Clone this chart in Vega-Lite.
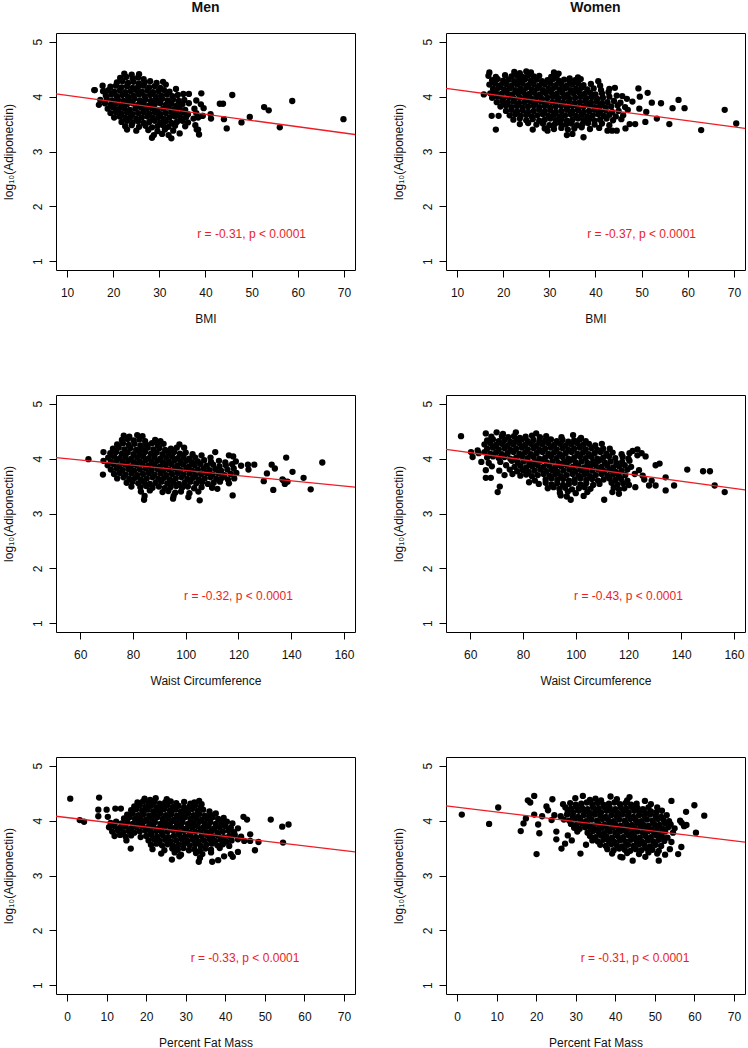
{
"$schema":"https://vega.github.io/schema/vega-lite/v6.json",
"padding":{"left":1,"top":0,"right":0,"bottom":0},
"background":"white",
"bounds":"flush",
"columns":2,
"spacing":{"row":125,"column":91},
"resolve":{"scale":{"x":"independent","y":"independent"}},
"datasets":{
"p1":[{"x":22.4,"y":4.42},{"x":24.0,"y":4.40},{"x":25.6,"y":4.41},
{"x":21.5,"y":4.34},{"x":22.8,"y":4.36},{"x":24.2,"y":4.33},{"x":25.4,"y":4.35},{"x":26.6,"y":4.32},
{"x":20.8,"y":4.26},{"x":22.0,"y":4.28},{"x":23.2,"y":4.25},{"x":24.4,"y":4.27},{"x":25.6,"y":4.24},{"x":26.8,"y":4.26},{"x":28.0,"y":4.28},{"x":29.4,"y":4.25},{"x":30.8,"y":4.27},
{"x":19.4,"y":4.18},{"x":20.6,"y":4.20},{"x":21.8,"y":4.17},{"x":23.0,"y":4.19},{"x":24.2,"y":4.16},{"x":25.4,"y":4.18},{"x":26.6,"y":4.20},{"x":27.8,"y":4.17},{"x":29.0,"y":4.19},{"x":30.2,"y":4.16},{"x":31.4,"y":4.22},
{"x":16.0,"y":4.12},{"x":17.8,"y":4.10},{"x":19.0,"y":4.12},{"x":20.2,"y":4.09},{"x":21.4,"y":4.11},{"x":22.6,"y":4.08},{"x":23.8,"y":4.10},{"x":25.0,"y":4.12},{"x":26.2,"y":4.09},{"x":27.4,"y":4.11},{"x":28.6,"y":4.08},{"x":29.8,"y":4.10},{"x":31.0,"y":4.12},{"x":32.2,"y":4.09},{"x":33.6,"y":4.14},
{"x":18.4,"y":4.02},{"x":19.6,"y":4.04},{"x":20.8,"y":4.01},{"x":22.0,"y":4.03},{"x":23.2,"y":4.00},{"x":24.4,"y":4.02},{"x":25.6,"y":4.04},{"x":26.8,"y":4.01},{"x":28.0,"y":4.03},{"x":29.2,"y":4.00},{"x":30.4,"y":4.02},{"x":31.6,"y":4.04},{"x":32.8,"y":4.01},{"x":34.0,"y":4.03},{"x":35.2,"y":4.05},{"x":36.4,"y":4.05},
{"x":17.2,"y":3.94},{"x":18.6,"y":3.96},{"x":19.8,"y":3.93},{"x":21.0,"y":3.95},{"x":22.2,"y":3.92},{"x":23.4,"y":3.94},{"x":24.6,"y":3.96},{"x":25.8,"y":3.93},{"x":27.0,"y":3.95},{"x":28.2,"y":3.92},{"x":29.4,"y":3.94},{"x":30.6,"y":3.96},{"x":31.8,"y":3.93},{"x":33.0,"y":3.95},{"x":34.2,"y":3.92},{"x":35.4,"y":3.94},{"x":38.0,"y":3.93},
{"x":16.9,"y":3.85},{"x":18.2,"y":3.88},{"x":19.4,"y":3.85},{"x":20.6,"y":3.87},{"x":21.8,"y":3.84},{"x":23.0,"y":3.86},{"x":24.2,"y":3.88},{"x":25.4,"y":3.85},{"x":26.6,"y":3.87},{"x":27.8,"y":3.84},{"x":29.0,"y":3.86},{"x":30.2,"y":3.88},{"x":31.4,"y":3.85},{"x":32.6,"y":3.87},{"x":33.8,"y":3.84},{"x":35.0,"y":3.86},{"x":36.4,"y":3.88},{"x":39.0,"y":3.86},
{"x":18.8,"y":3.78},{"x":20.0,"y":3.80},{"x":21.2,"y":3.77},{"x":22.4,"y":3.79},{"x":23.6,"y":3.76},{"x":24.8,"y":3.78},{"x":26.0,"y":3.80},{"x":27.2,"y":3.77},{"x":28.4,"y":3.79},{"x":29.6,"y":3.76},{"x":30.8,"y":3.78},{"x":32.0,"y":3.80},{"x":33.2,"y":3.77},{"x":34.4,"y":3.79},{"x":35.6,"y":3.76},{"x":37.6,"y":3.78},{"x":39.6,"y":3.79},
{"x":19.4,"y":3.70},{"x":20.6,"y":3.72},{"x":21.8,"y":3.69},{"x":23.0,"y":3.71},{"x":24.2,"y":3.68},{"x":25.4,"y":3.70},{"x":26.6,"y":3.72},{"x":27.8,"y":3.69},{"x":29.0,"y":3.71},{"x":30.2,"y":3.68},{"x":31.4,"y":3.70},{"x":32.6,"y":3.72},{"x":33.8,"y":3.69},{"x":35.0,"y":3.71},{"x":36.2,"y":3.68},{"x":38.0,"y":3.70},{"x":39.4,"y":3.65},
{"x":20.2,"y":3.62},{"x":21.4,"y":3.64},{"x":22.6,"y":3.61},{"x":23.8,"y":3.63},{"x":25.0,"y":3.60},{"x":26.2,"y":3.62},{"x":27.4,"y":3.64},{"x":28.6,"y":3.61},{"x":29.8,"y":3.63},{"x":31.0,"y":3.60},{"x":32.2,"y":3.62},{"x":33.4,"y":3.64},{"x":34.6,"y":3.61},{"x":35.8,"y":3.63},{"x":37.4,"y":3.60},{"x":38.4,"y":3.62},{"x":41.2,"y":3.60},
{"x":21.8,"y":3.54},{"x":23.0,"y":3.56},{"x":24.2,"y":3.53},{"x":25.4,"y":3.55},{"x":26.6,"y":3.52},{"x":27.8,"y":3.54},{"x":29.0,"y":3.56},{"x":30.2,"y":3.53},{"x":31.4,"y":3.55},{"x":32.6,"y":3.52},{"x":33.8,"y":3.54},{"x":35.0,"y":3.56},{"x":36.2,"y":3.53},
{"x":22.6,"y":3.46},{"x":24.0,"y":3.48},{"x":25.6,"y":3.45},{"x":27.0,"y":3.47},{"x":28.4,"y":3.44},{"x":29.6,"y":3.46},{"x":30.8,"y":3.48},{"x":32.0,"y":3.45},{"x":33.4,"y":3.47},{"x":35.6,"y":3.46},{"x":37.8,"y":3.48},
{"x":23.0,"y":3.40},{"x":25.0,"y":3.38},{"x":27.6,"y":3.39},{"x":29.6,"y":3.37},{"x":31.2,"y":3.40},{"x":33.0,"y":3.38},{"x":38.4,"y":3.40},
{"x":28.8,"y":3.30},{"x":30.6,"y":3.32},{"x":32.0,"y":3.30},{"x":34.4,"y":3.33},{"x":38.6,"y":3.31},
{"x":28.4,"y":3.25},{"x":32.6,"y":3.24},
{"x":43.1,"y":3.87},{"x":43.8,"y":3.87},{"x":45.8,"y":4.03},{"x":44.0,"y":3.59},{"x":44.6,"y":3.42},{"x":47.8,"y":3.53},{"x":49.6,"y":3.63},{"x":52.7,"y":3.81},{"x":53.7,"y":3.75},{"x":56.1,"y":3.44},{"x":58.8,"y":3.92},{"x":69.9,"y":3.59},{"x":39.1,"y":4.06},{"x":39.3,"y":3.65},{"x":41.1,"y":3.68},{"x":38.1,"y":3.40},{"x":15.9,"y":4.12},{"x":17.7,"y":4.20},{"x":18.0,"y":4.10}],
"p2":[{"x":17.0,"y":4.44},{"x":22.4,"y":4.45},{"x":23.6,"y":4.43},{"x":25.0,"y":4.46},{"x":26.0,"y":4.44},{"x":31.0,"y":4.44},{"x":32.0,"y":4.42},
{"x":16.8,"y":4.38},{"x":18.4,"y":4.36},{"x":20.4,"y":4.39},{"x":21.8,"y":4.37},{"x":23.0,"y":4.38},{"x":24.2,"y":4.36},{"x":25.4,"y":4.39},{"x":26.6,"y":4.37},{"x":27.8,"y":4.38},{"x":30.4,"y":4.36},{"x":31.6,"y":4.38},{"x":34.4,"y":4.33},{"x":36.2,"y":4.35},
{"x":17.6,"y":4.30},{"x":18.8,"y":4.32},{"x":20.0,"y":4.29},{"x":21.2,"y":4.31},{"x":22.4,"y":4.28},{"x":23.6,"y":4.30},{"x":24.8,"y":4.32},{"x":26.0,"y":4.29},{"x":27.2,"y":4.31},{"x":28.4,"y":4.28},{"x":29.6,"y":4.30},{"x":30.8,"y":4.32},{"x":32.0,"y":4.29},{"x":33.2,"y":4.31},{"x":34.4,"y":4.28},{"x":35.6,"y":4.30},{"x":36.8,"y":4.32},{"x":40.6,"y":4.28},
{"x":17.0,"y":4.22},{"x":18.2,"y":4.24},{"x":19.4,"y":4.21},{"x":20.6,"y":4.23},{"x":21.8,"y":4.20},{"x":23.0,"y":4.22},{"x":24.2,"y":4.24},{"x":25.4,"y":4.21},{"x":26.6,"y":4.23},{"x":27.8,"y":4.20},{"x":29.0,"y":4.22},{"x":30.2,"y":4.24},{"x":31.4,"y":4.21},{"x":32.6,"y":4.23},{"x":33.8,"y":4.20},{"x":35.0,"y":4.22},{"x":36.2,"y":4.24},{"x":37.4,"y":4.21},{"x":39.0,"y":4.23},{"x":41.0,"y":4.20},{"x":44.2,"y":4.16},
{"x":17.8,"y":4.14},{"x":19.0,"y":4.16},{"x":20.2,"y":4.13},{"x":21.4,"y":4.15},{"x":22.6,"y":4.12},{"x":23.8,"y":4.14},{"x":25.0,"y":4.16},{"x":26.2,"y":4.13},{"x":27.4,"y":4.15},{"x":28.6,"y":4.12},{"x":29.8,"y":4.14},{"x":31.0,"y":4.16},{"x":32.2,"y":4.13},{"x":33.4,"y":4.15},{"x":34.6,"y":4.12},{"x":35.8,"y":4.14},{"x":37.0,"y":4.16},{"x":38.2,"y":4.13},{"x":39.6,"y":4.15},{"x":41.2,"y":4.12},{"x":43.0,"y":4.14},{"x":49.3,"y":4.15},
{"x":15.8,"y":4.04},{"x":17.2,"y":4.06},{"x":18.4,"y":4.08},{"x":19.6,"y":4.05},{"x":20.8,"y":4.07},{"x":22.0,"y":4.04},{"x":23.2,"y":4.06},{"x":24.4,"y":4.08},{"x":25.6,"y":4.05},{"x":26.8,"y":4.07},{"x":28.0,"y":4.04},{"x":29.2,"y":4.06},{"x":30.4,"y":4.08},{"x":31.6,"y":4.05},{"x":32.8,"y":4.07},{"x":34.0,"y":4.04},{"x":35.2,"y":4.06},{"x":36.4,"y":4.08},{"x":37.6,"y":4.05},{"x":38.8,"y":4.07},{"x":40.0,"y":4.04},{"x":41.4,"y":4.06},{"x":42.8,"y":4.08},{"x":44.6,"y":4.02},{"x":45.8,"y":4.01},{"x":51.3,"y":4.07},
{"x":17.6,"y":3.98},{"x":18.8,"y":4.00},{"x":20.0,"y":3.97},{"x":21.2,"y":3.99},{"x":22.4,"y":3.96},{"x":23.6,"y":3.98},{"x":24.8,"y":4.00},{"x":26.0,"y":3.97},{"x":27.2,"y":3.99},{"x":28.4,"y":3.96},{"x":29.6,"y":3.98},{"x":30.8,"y":4.00},{"x":32.0,"y":3.97},{"x":33.2,"y":3.99},{"x":34.4,"y":3.96},{"x":35.6,"y":3.98},{"x":36.8,"y":4.00},{"x":38.0,"y":3.97},{"x":39.2,"y":3.99},{"x":40.4,"y":3.96},{"x":41.6,"y":3.98},{"x":43.0,"y":4.00},{"x":46.8,"y":3.96},{"x":49.6,"y":4.00},
{"x":18.6,"y":3.90},{"x":19.8,"y":3.92},{"x":21.0,"y":3.89},{"x":22.2,"y":3.91},{"x":23.4,"y":3.88},{"x":24.6,"y":3.90},{"x":25.8,"y":3.92},{"x":27.0,"y":3.89},{"x":28.2,"y":3.91},{"x":29.4,"y":3.88},{"x":30.6,"y":3.90},{"x":31.8,"y":3.92},{"x":33.0,"y":3.89},{"x":34.2,"y":3.91},{"x":35.4,"y":3.88},{"x":36.6,"y":3.90},{"x":37.8,"y":3.92},{"x":39.0,"y":3.89},{"x":40.2,"y":3.91},{"x":41.4,"y":3.88},{"x":42.6,"y":3.90},{"x":44.0,"y":3.92},{"x":45.4,"y":3.89},{"x":48.0,"y":3.91},{"x":52.2,"y":3.89},{"x":54.2,"y":3.88},
{"x":19.4,"y":3.82},{"x":20.6,"y":3.84},{"x":21.8,"y":3.81},{"x":23.0,"y":3.83},{"x":24.2,"y":3.80},{"x":25.4,"y":3.82},{"x":26.6,"y":3.84},{"x":27.8,"y":3.81},{"x":29.0,"y":3.83},{"x":30.2,"y":3.80},{"x":31.4,"y":3.82},{"x":32.6,"y":3.84},{"x":33.8,"y":3.81},{"x":35.0,"y":3.83},{"x":36.2,"y":3.80},{"x":37.4,"y":3.82},{"x":38.6,"y":3.84},{"x":39.8,"y":3.81},{"x":41.0,"y":3.83},{"x":42.2,"y":3.80},{"x":43.4,"y":3.82},{"x":44.8,"y":3.84},{"x":46.4,"y":3.81},{"x":49.5,"y":3.78},{"x":56.7,"y":3.79},{"x":59.3,"y":3.79},{"x":58.0,"y":3.94},
{"x":20.6,"y":3.74},{"x":21.8,"y":3.76},{"x":23.0,"y":3.73},{"x":24.2,"y":3.75},{"x":25.4,"y":3.72},{"x":26.6,"y":3.74},{"x":27.8,"y":3.76},{"x":29.0,"y":3.73},{"x":30.2,"y":3.75},{"x":31.4,"y":3.72},{"x":32.6,"y":3.74},{"x":33.8,"y":3.76},{"x":35.0,"y":3.73},{"x":36.2,"y":3.75},{"x":37.4,"y":3.72},{"x":38.6,"y":3.74},{"x":39.8,"y":3.76},{"x":41.0,"y":3.73},{"x":42.2,"y":3.75},{"x":43.6,"y":3.72},{"x":45.0,"y":3.74},{"x":47.0,"y":3.76},{"x":51.0,"y":3.72},{"x":68.0,"y":3.76},
{"x":17.5,"y":3.65},{"x":19.0,"y":3.65},{"x":21.4,"y":3.66},{"x":22.6,"y":3.68},{"x":23.8,"y":3.65},{"x":25.0,"y":3.67},{"x":26.2,"y":3.64},{"x":27.4,"y":3.66},{"x":28.6,"y":3.68},{"x":29.8,"y":3.65},{"x":31.0,"y":3.67},{"x":32.2,"y":3.64},{"x":33.4,"y":3.66},{"x":34.6,"y":3.68},{"x":35.8,"y":3.65},{"x":37.0,"y":3.67},{"x":38.2,"y":3.64},{"x":39.4,"y":3.66},{"x":40.6,"y":3.68},{"x":41.8,"y":3.65},{"x":43.0,"y":3.67},{"x":44.4,"y":3.64},{"x":46.0,"y":3.66},
{"x":22.2,"y":3.58},{"x":23.6,"y":3.60},{"x":25.0,"y":3.57},{"x":26.4,"y":3.59},{"x":27.8,"y":3.56},{"x":29.0,"y":3.58},{"x":30.2,"y":3.60},{"x":31.4,"y":3.57},{"x":32.6,"y":3.59},{"x":33.8,"y":3.56},{"x":35.0,"y":3.58},{"x":36.2,"y":3.60},{"x":37.4,"y":3.57},{"x":38.6,"y":3.59},{"x":39.8,"y":3.56},{"x":41.0,"y":3.58},{"x":42.4,"y":3.60},{"x":43.8,"y":3.57},{"x":45.6,"y":3.59},{"x":53.3,"y":3.60},
{"x":23.6,"y":3.50},{"x":25.4,"y":3.52},{"x":27.2,"y":3.49},{"x":28.6,"y":3.51},{"x":30.0,"y":3.48},{"x":31.2,"y":3.50},{"x":32.4,"y":3.52},{"x":33.6,"y":3.49},{"x":34.8,"y":3.51},{"x":36.0,"y":3.48},{"x":37.2,"y":3.50},{"x":38.4,"y":3.52},{"x":39.8,"y":3.49},{"x":41.4,"y":3.51},{"x":43.0,"y":3.48},{"x":47.4,"y":3.50},{"x":48.6,"y":3.50},{"x":50.8,"y":3.54},{"x":56.0,"y":3.50},{"x":70.5,"y":3.51},
{"x":26.4,"y":3.40},{"x":29.0,"y":3.42},{"x":31.0,"y":3.41},{"x":32.6,"y":3.43},{"x":34.0,"y":3.40},{"x":35.4,"y":3.42},{"x":37.0,"y":3.44},{"x":38.8,"y":3.41},{"x":40.8,"y":3.43},{"x":42.6,"y":3.38},{"x":43.6,"y":3.38},{"x":44.6,"y":3.38},{"x":46.5,"y":3.42},
{"x":18.4,"y":3.40},{"x":29.6,"y":3.38},{"x":62.9,"y":3.39},{"x":33.8,"y":3.30},{"x":35.0,"y":3.32},{"x":37.4,"y":3.26}],
"p3":[{"x":76.5,"y":4.42},{"x":78.6,"y":4.40},{"x":81.6,"y":4.43},{"x":83.6,"y":4.41},
{"x":75.8,"y":4.34},{"x":78.0,"y":4.36},{"x":80.2,"y":4.33},{"x":82.4,"y":4.35},{"x":84.6,"y":4.32},{"x":88.4,"y":4.34},{"x":90.4,"y":4.32},
{"x":74.0,"y":4.26},{"x":76.2,"y":4.28},{"x":78.4,"y":4.25},{"x":80.6,"y":4.27},{"x":82.8,"y":4.24},{"x":85.0,"y":4.26},{"x":87.2,"y":4.28},{"x":89.4,"y":4.25},{"x":91.6,"y":4.27},{"x":97.6,"y":4.26},
{"x":72.4,"y":4.18},{"x":74.6,"y":4.20},{"x":76.8,"y":4.17},{"x":79.0,"y":4.19},{"x":81.2,"y":4.16},{"x":83.4,"y":4.18},{"x":85.6,"y":4.20},{"x":87.8,"y":4.17},{"x":90.0,"y":4.19},{"x":92.2,"y":4.16},{"x":94.4,"y":4.18},{"x":96.6,"y":4.20},{"x":99.4,"y":4.20},
{"x":68.8,"y":4.12},{"x":71.4,"y":4.10},{"x":73.6,"y":4.12},{"x":75.8,"y":4.09},{"x":78.0,"y":4.11},{"x":80.2,"y":4.08},{"x":82.4,"y":4.10},{"x":84.6,"y":4.12},{"x":86.8,"y":4.09},{"x":89.0,"y":4.11},{"x":91.2,"y":4.08},{"x":93.4,"y":4.10},{"x":95.6,"y":4.12},{"x":97.8,"y":4.09},{"x":100.0,"y":4.11},{"x":102.6,"y":4.08},{"x":111.2,"y":4.12},
{"x":70.6,"y":4.02},{"x":72.8,"y":4.04},{"x":75.0,"y":4.01},{"x":77.2,"y":4.03},{"x":79.4,"y":4.00},{"x":81.6,"y":4.02},{"x":83.8,"y":4.04},{"x":86.0,"y":4.01},{"x":88.2,"y":4.03},{"x":90.4,"y":4.00},{"x":92.6,"y":4.02},{"x":94.8,"y":4.04},{"x":97.0,"y":4.01},{"x":99.2,"y":4.03},{"x":101.4,"y":4.00},{"x":103.6,"y":4.02},{"x":106.0,"y":4.06},{"x":109.4,"y":4.02},{"x":116.4,"y":4.06},{"x":118.0,"y":4.04},
{"x":63.1,"y":3.99},{"x":68.8,"y":3.96},{"x":71.6,"y":3.95},{"x":73.8,"y":3.97},{"x":76.0,"y":3.94},{"x":78.2,"y":3.96},{"x":80.4,"y":3.93},{"x":82.6,"y":3.95},{"x":84.8,"y":3.97},{"x":87.0,"y":3.94},{"x":89.2,"y":3.96},{"x":91.4,"y":3.93},{"x":93.6,"y":3.95},{"x":95.8,"y":3.97},{"x":98.0,"y":3.94},{"x":100.2,"y":3.96},{"x":102.4,"y":3.93},{"x":104.6,"y":3.95},{"x":107.0,"y":3.97},{"x":109.6,"y":3.94},{"x":112.6,"y":3.96},{"x":115.0,"y":3.93},{"x":119.0,"y":3.95},
{"x":70.4,"y":3.88},{"x":72.6,"y":3.90},{"x":74.8,"y":3.87},{"x":77.0,"y":3.89},{"x":79.2,"y":3.86},{"x":81.4,"y":3.88},{"x":83.6,"y":3.90},{"x":85.8,"y":3.87},{"x":88.0,"y":3.89},{"x":90.2,"y":3.86},{"x":92.4,"y":3.88},{"x":94.6,"y":3.90},{"x":96.8,"y":3.87},{"x":99.0,"y":3.89},{"x":101.2,"y":3.86},{"x":103.4,"y":3.88},{"x":105.6,"y":3.90},{"x":108.0,"y":3.87},{"x":110.4,"y":3.89},{"x":112.8,"y":3.86},{"x":115.2,"y":3.88},{"x":117.6,"y":3.90},{"x":121.0,"y":3.87},{"x":123.6,"y":3.89},{"x":126.0,"y":3.89},
{"x":71.6,"y":3.80},{"x":73.8,"y":3.82},{"x":76.0,"y":3.79},{"x":78.2,"y":3.81},{"x":80.4,"y":3.78},{"x":82.6,"y":3.80},{"x":84.8,"y":3.82},{"x":87.0,"y":3.79},{"x":89.2,"y":3.81},{"x":91.4,"y":3.78},{"x":93.6,"y":3.80},{"x":95.8,"y":3.82},{"x":98.0,"y":3.79},{"x":100.2,"y":3.81},{"x":102.4,"y":3.78},{"x":104.6,"y":3.80},{"x":106.8,"y":3.82},{"x":109.0,"y":3.79},{"x":111.2,"y":3.81},{"x":113.4,"y":3.78},{"x":115.8,"y":3.80},{"x":118.2,"y":3.82},{"x":123.8,"y":3.80},
{"x":68.6,"y":3.71},{"x":72.8,"y":3.72},{"x":75.0,"y":3.74},{"x":77.2,"y":3.71},{"x":79.4,"y":3.73},{"x":81.6,"y":3.70},{"x":83.8,"y":3.72},{"x":86.0,"y":3.74},{"x":88.2,"y":3.71},{"x":90.4,"y":3.73},{"x":92.6,"y":3.70},{"x":94.8,"y":3.72},{"x":97.0,"y":3.74},{"x":99.2,"y":3.71},{"x":101.4,"y":3.73},{"x":103.6,"y":3.70},{"x":105.8,"y":3.72},{"x":108.0,"y":3.74},{"x":110.2,"y":3.71},{"x":112.4,"y":3.73},{"x":114.6,"y":3.70},{"x":117.0,"y":3.72},{"x":119.2,"y":3.74},
{"x":74.0,"y":3.64},{"x":76.4,"y":3.66},{"x":78.6,"y":3.63},{"x":80.8,"y":3.65},{"x":83.0,"y":3.62},{"x":85.2,"y":3.64},{"x":87.4,"y":3.66},{"x":89.6,"y":3.63},{"x":91.8,"y":3.65},{"x":94.0,"y":3.62},{"x":96.2,"y":3.64},{"x":98.4,"y":3.66},{"x":100.6,"y":3.63},{"x":102.8,"y":3.65},{"x":105.0,"y":3.62},{"x":107.2,"y":3.64},{"x":109.4,"y":3.66},{"x":111.6,"y":3.63},{"x":113.8,"y":3.65},{"x":116.0,"y":3.62},{"x":118.4,"y":3.64},
{"x":77.6,"y":3.56},{"x":79.8,"y":3.58},{"x":82.0,"y":3.55},{"x":84.2,"y":3.57},{"x":86.4,"y":3.54},{"x":88.6,"y":3.56},{"x":90.8,"y":3.58},{"x":93.0,"y":3.55},{"x":95.2,"y":3.57},{"x":97.4,"y":3.54},{"x":99.6,"y":3.56},{"x":101.8,"y":3.58},{"x":104.0,"y":3.55},{"x":106.2,"y":3.57},{"x":108.4,"y":3.54},{"x":110.6,"y":3.56},{"x":113.0,"y":3.58},{"x":116.4,"y":3.55},
{"x":79.4,"y":3.49},{"x":82.8,"y":3.48},{"x":85.0,"y":3.50},{"x":87.4,"y":3.47},{"x":89.8,"y":3.49},{"x":92.0,"y":3.46},{"x":94.2,"y":3.48},{"x":96.4,"y":3.50},{"x":98.6,"y":3.47},{"x":100.8,"y":3.49},{"x":103.2,"y":3.46},{"x":106.0,"y":3.48},{"x":110.0,"y":3.47},{"x":112.0,"y":3.45},
{"x":83.0,"y":3.40},{"x":86.4,"y":3.42},{"x":91.2,"y":3.39},{"x":93.4,"y":3.41},{"x":96.0,"y":3.38},{"x":98.2,"y":3.40},{"x":101.4,"y":3.37},{"x":104.8,"y":3.40},
{"x":84.4,"y":3.32},{"x":95.4,"y":3.32},{"x":117.8,"y":3.33},{"x":101.0,"y":3.30},
{"x":84.2,"y":3.25},{"x":95.2,"y":3.27},{"x":105.3,"y":3.24},
{"x":129.6,"y":3.59},{"x":130.8,"y":3.73},{"x":132.6,"y":3.89},{"x":133.8,"y":3.82},{"x":133.2,"y":3.43},{"x":137.1,"y":3.60},{"x":138.1,"y":4.02},{"x":137.6,"y":3.54},{"x":138.6,"y":3.58},{"x":140.5,"y":3.76},{"x":144.7,"y":3.65},{"x":147.4,"y":3.44},{"x":151.8,"y":3.93},{"x":136.7,"y":3.62}],
"p4":[{"x":56.5,"y":4.41},{"x":65.9,"y":4.46},{"x":70.0,"y":4.48},{"x":72.4,"y":4.45},{"x":77.3,"y":4.48},{"x":85.0,"y":4.46},
{"x":68.0,"y":4.40},{"x":72.0,"y":4.41},{"x":74.4,"y":4.39},{"x":76.6,"y":4.41},{"x":78.8,"y":4.38},{"x":81.0,"y":4.40},{"x":83.4,"y":4.42},{"x":86.4,"y":4.39},{"x":88.8,"y":4.41},{"x":94.6,"y":4.39},{"x":99.0,"y":4.43},{"x":102.0,"y":4.38},
{"x":66.4,"y":4.33},{"x":68.6,"y":4.35},{"x":70.8,"y":4.32},{"x":73.0,"y":4.34},{"x":75.2,"y":4.31},{"x":77.4,"y":4.33},{"x":79.6,"y":4.35},{"x":81.8,"y":4.32},{"x":84.0,"y":4.34},{"x":86.2,"y":4.31},{"x":88.4,"y":4.33},{"x":90.6,"y":4.35},{"x":92.8,"y":4.32},{"x":95.0,"y":4.34},{"x":97.2,"y":4.31},{"x":99.4,"y":4.33},{"x":101.6,"y":4.35},{"x":103.8,"y":4.32},
{"x":65.4,"y":4.26},{"x":67.6,"y":4.28},{"x":69.8,"y":4.25},{"x":72.0,"y":4.27},{"x":74.2,"y":4.24},{"x":76.4,"y":4.26},{"x":78.6,"y":4.28},{"x":80.8,"y":4.25},{"x":83.0,"y":4.27},{"x":85.2,"y":4.24},{"x":87.4,"y":4.26},{"x":89.6,"y":4.28},{"x":91.8,"y":4.25},{"x":94.0,"y":4.27},{"x":96.2,"y":4.24},{"x":98.4,"y":4.26},{"x":100.6,"y":4.28},{"x":102.8,"y":4.25},{"x":105.0,"y":4.27},{"x":107.4,"y":4.24},{"x":109.9,"y":4.27},
{"x":62.8,"y":4.15},{"x":66.4,"y":4.18},{"x":68.6,"y":4.20},{"x":70.8,"y":4.17},{"x":73.0,"y":4.19},{"x":75.2,"y":4.16},{"x":77.4,"y":4.18},{"x":79.6,"y":4.20},{"x":81.8,"y":4.17},{"x":84.0,"y":4.19},{"x":86.2,"y":4.16},{"x":88.4,"y":4.18},{"x":90.6,"y":4.20},{"x":92.8,"y":4.17},{"x":95.0,"y":4.19},{"x":97.2,"y":4.16},{"x":99.4,"y":4.18},{"x":101.6,"y":4.20},{"x":103.8,"y":4.17},{"x":106.0,"y":4.19},{"x":108.2,"y":4.16},{"x":110.4,"y":4.18},{"x":112.9,"y":4.18},{"x":121.6,"y":4.14},{"x":123.4,"y":4.17},
{"x":60.3,"y":4.12},{"x":63.2,"y":4.10},{"x":65.4,"y":4.12},{"x":67.6,"y":4.09},{"x":69.8,"y":4.11},{"x":72.0,"y":4.08},{"x":74.2,"y":4.10},{"x":76.4,"y":4.12},{"x":78.6,"y":4.09},{"x":80.8,"y":4.11},{"x":83.0,"y":4.08},{"x":85.2,"y":4.10},{"x":87.4,"y":4.12},{"x":89.6,"y":4.09},{"x":91.8,"y":4.11},{"x":94.0,"y":4.08},{"x":96.2,"y":4.10},{"x":98.4,"y":4.12},{"x":100.6,"y":4.09},{"x":102.8,"y":4.11},{"x":105.0,"y":4.08},{"x":107.2,"y":4.10},{"x":109.4,"y":4.12},{"x":111.6,"y":4.09},{"x":114.0,"y":4.11},{"x":117.4,"y":4.08},{"x":120.4,"y":4.10},{"x":125.0,"y":4.10},
{"x":60.9,"y":4.03},{"x":66.4,"y":4.02},{"x":68.6,"y":4.04},{"x":70.8,"y":4.01},{"x":73.0,"y":4.03},{"x":75.2,"y":4.00},{"x":77.4,"y":4.02},{"x":79.6,"y":4.04},{"x":81.8,"y":4.01},{"x":84.0,"y":4.03},{"x":86.2,"y":4.00},{"x":88.4,"y":4.02},{"x":90.6,"y":4.04},{"x":92.8,"y":4.01},{"x":95.0,"y":4.03},{"x":97.2,"y":4.00},{"x":99.4,"y":4.02},{"x":101.6,"y":4.04},{"x":103.8,"y":4.01},{"x":106.0,"y":4.03},{"x":108.2,"y":4.00},{"x":110.4,"y":4.02},{"x":112.6,"y":4.04},{"x":115.0,"y":4.01},{"x":117.8,"y":4.03},{"x":120.0,"y":4.00},{"x":123.4,"y":4.06},{"x":126.5,"y":4.04},
{"x":64.2,"y":3.94},{"x":67.0,"y":3.92},{"x":71.4,"y":3.94},{"x":75.8,"y":3.96},{"x":78.0,"y":3.93},{"x":80.2,"y":3.95},{"x":82.4,"y":3.92},{"x":84.6,"y":3.94},{"x":86.8,"y":3.96},{"x":89.0,"y":3.93},{"x":91.2,"y":3.95},{"x":93.4,"y":3.92},{"x":95.6,"y":3.94},{"x":97.8,"y":3.96},{"x":100.0,"y":3.93},{"x":102.2,"y":3.95},{"x":104.4,"y":3.92},{"x":106.6,"y":3.94},{"x":108.8,"y":3.96},{"x":111.0,"y":3.93},{"x":113.2,"y":3.95},{"x":115.4,"y":3.92},{"x":117.6,"y":3.94},{"x":120.4,"y":3.96},{"x":131.8,"y":3.91},
{"x":68.2,"y":3.86},{"x":73.6,"y":3.88},{"x":76.8,"y":3.85},{"x":79.0,"y":3.87},{"x":81.2,"y":3.84},{"x":83.4,"y":3.86},{"x":85.6,"y":3.88},{"x":87.8,"y":3.85},{"x":90.0,"y":3.87},{"x":92.2,"y":3.84},{"x":94.4,"y":3.86},{"x":96.6,"y":3.88},{"x":98.8,"y":3.85},{"x":101.0,"y":3.87},{"x":103.2,"y":3.84},{"x":105.4,"y":3.86},{"x":107.6,"y":3.88},{"x":109.8,"y":3.85},{"x":112.0,"y":3.87},{"x":114.2,"y":3.84},{"x":116.4,"y":3.86},{"x":118.6,"y":3.88},{"x":121.0,"y":3.85},{"x":124.0,"y":3.79},{"x":130.3,"y":3.88},
{"x":65.9,"y":3.79},{"x":71.0,"y":3.78},{"x":75.0,"y":3.80},{"x":77.8,"y":3.77},{"x":80.0,"y":3.79},{"x":82.2,"y":3.76},{"x":84.4,"y":3.78},{"x":86.6,"y":3.80},{"x":88.8,"y":3.77},{"x":91.0,"y":3.79},{"x":93.2,"y":3.76},{"x":95.4,"y":3.78},{"x":97.6,"y":3.80},{"x":99.8,"y":3.77},{"x":102.0,"y":3.79},{"x":104.2,"y":3.76},{"x":106.4,"y":3.78},{"x":108.6,"y":3.80},{"x":110.8,"y":3.77},{"x":113.0,"y":3.79},{"x":115.2,"y":3.76},{"x":117.4,"y":3.78},{"x":119.6,"y":3.80},{"x":142.3,"y":3.80},{"x":148.3,"y":3.77},{"x":150.9,"y":3.77},
{"x":73.0,"y":3.70},{"x":76.0,"y":3.72},{"x":79.0,"y":3.69},{"x":81.2,"y":3.71},{"x":83.4,"y":3.68},{"x":85.6,"y":3.70},{"x":87.8,"y":3.72},{"x":90.0,"y":3.69},{"x":92.2,"y":3.71},{"x":94.4,"y":3.68},{"x":96.6,"y":3.70},{"x":98.8,"y":3.72},{"x":101.0,"y":3.69},{"x":103.2,"y":3.71},{"x":105.4,"y":3.68},{"x":107.6,"y":3.70},{"x":109.8,"y":3.72},{"x":112.0,"y":3.69},{"x":114.2,"y":3.71},{"x":116.4,"y":3.68},{"x":118.8,"y":3.70},{"x":122.4,"y":3.72},{"x":125.4,"y":3.69},
{"x":65.9,"y":3.65},{"x":67.8,"y":3.65},{"x":82.3,"y":3.57},{"x":84.5,"y":3.60},{"x":88.6,"y":3.62},{"x":90.8,"y":3.64},{"x":93.0,"y":3.61},{"x":95.2,"y":3.63},{"x":97.4,"y":3.60},{"x":99.6,"y":3.62},{"x":101.8,"y":3.64},{"x":104.0,"y":3.61},{"x":106.2,"y":3.63},{"x":108.4,"y":3.60},{"x":110.6,"y":3.62},{"x":112.8,"y":3.64},{"x":115.0,"y":3.61},{"x":117.2,"y":3.63},{"x":119.6,"y":3.60},{"x":126.0,"y":3.62},{"x":128.8,"y":3.60},{"x":134.1,"y":3.66},
{"x":86.0,"y":3.54},{"x":88.6,"y":3.56},{"x":90.8,"y":3.53},{"x":93.0,"y":3.55},{"x":95.2,"y":3.52},{"x":97.4,"y":3.54},{"x":99.6,"y":3.56},{"x":101.8,"y":3.53},{"x":104.0,"y":3.55},{"x":106.6,"y":3.52},{"x":109.0,"y":3.54},{"x":113.6,"y":3.56},{"x":115.8,"y":3.53},{"x":118.0,"y":3.55},{"x":120.2,"y":3.52},{"x":127.8,"y":3.51},{"x":130.3,"y":3.51},{"x":137.3,"y":3.51},{"x":152.7,"y":3.51},
{"x":71.2,"y":3.49},{"x":89.4,"y":3.46},{"x":91.6,"y":3.48},{"x":93.8,"y":3.45},{"x":96.0,"y":3.47},{"x":98.6,"y":3.44},{"x":101.2,"y":3.46},{"x":103.4,"y":3.48},{"x":105.6,"y":3.45},{"x":114.4,"y":3.47},{"x":116.4,"y":3.44},{"x":118.4,"y":3.46},{"x":122.6,"y":3.48},
{"x":70.4,"y":3.39},{"x":94.0,"y":3.38},{"x":97.0,"y":3.40},{"x":100.0,"y":3.37},{"x":104.4,"y":3.39},{"x":113.9,"y":3.39},{"x":116.4,"y":3.36},{"x":134.1,"y":3.42},{"x":156.5,"y":3.39},
{"x":94.3,"y":3.33},{"x":96.6,"y":3.31},{"x":103.0,"y":3.32},{"x":98.1,"y":3.25},{"x":110.8,"y":3.25}],
"p5":[{"x":0.8,"y":4.40},{"x":8.1,"y":4.42},{"x":19.6,"y":4.40},{"x":21.0,"y":4.38},{"x":22.4,"y":4.41},{"x":25.2,"y":4.39},{"x":33.4,"y":4.36},
{"x":17.8,"y":4.33},{"x":19.2,"y":4.35},{"x":20.6,"y":4.32},{"x":22.0,"y":4.34},{"x":23.4,"y":4.31},{"x":24.8,"y":4.33},{"x":26.2,"y":4.35},{"x":27.6,"y":4.32},{"x":29.6,"y":4.34},{"x":31.2,"y":4.31},{"x":32.2,"y":4.33},{"x":34.0,"y":4.30},
{"x":17.0,"y":4.26},{"x":18.4,"y":4.28},{"x":19.8,"y":4.25},{"x":21.2,"y":4.27},{"x":22.6,"y":4.24},{"x":24.0,"y":4.26},{"x":25.4,"y":4.28},{"x":26.8,"y":4.25},{"x":28.2,"y":4.27},{"x":29.6,"y":4.24},{"x":31.0,"y":4.26},{"x":32.4,"y":4.28},{"x":33.8,"y":4.25},
{"x":7.9,"y":4.20},{"x":10.0,"y":4.20},{"x":12.2,"y":4.22},{"x":13.6,"y":4.22},{"x":16.2,"y":4.19},{"x":17.6,"y":4.21},{"x":19.0,"y":4.18},{"x":20.4,"y":4.20},{"x":21.8,"y":4.17},{"x":23.2,"y":4.19},{"x":24.6,"y":4.21},{"x":26.0,"y":4.18},{"x":27.4,"y":4.20},{"x":28.8,"y":4.17},{"x":30.2,"y":4.19},{"x":31.6,"y":4.21},{"x":33.0,"y":4.18},{"x":34.4,"y":4.20},{"x":36.0,"y":4.17},
{"x":15.2,"y":4.11},{"x":16.6,"y":4.13},{"x":18.0,"y":4.10},{"x":19.4,"y":4.12},{"x":20.8,"y":4.09},{"x":22.2,"y":4.11},{"x":23.6,"y":4.13},{"x":25.0,"y":4.10},{"x":26.4,"y":4.12},{"x":27.8,"y":4.09},{"x":29.2,"y":4.11},{"x":30.6,"y":4.13},{"x":32.0,"y":4.10},{"x":33.4,"y":4.12},{"x":34.8,"y":4.09},{"x":36.2,"y":4.11},{"x":37.6,"y":4.13},
{"x":3.2,"y":4.01},{"x":4.3,"y":3.98},{"x":7.9,"y":4.08},{"x":10.3,"y":4.07},{"x":14.4,"y":4.04},{"x":15.8,"y":4.06},{"x":17.2,"y":4.03},{"x":18.6,"y":4.05},{"x":20.0,"y":4.02},{"x":21.4,"y":4.04},{"x":22.8,"y":4.06},{"x":24.2,"y":4.03},{"x":25.6,"y":4.05},{"x":27.0,"y":4.02},{"x":28.4,"y":4.04},{"x":29.8,"y":4.06},{"x":31.2,"y":4.03},{"x":32.6,"y":4.05},{"x":34.0,"y":4.02},{"x":35.4,"y":4.04},{"x":36.8,"y":4.06},{"x":38.2,"y":4.03},{"x":39.6,"y":4.05},{"x":44.6,"y":4.07},{"x":45.5,"y":4.02},{"x":51.5,"y":4.02},
{"x":11.0,"y":3.96},{"x":12.4,"y":3.98},{"x":13.8,"y":3.95},{"x":15.2,"y":3.97},{"x":16.6,"y":3.94},{"x":18.0,"y":3.96},{"x":19.4,"y":3.98},{"x":20.8,"y":3.95},{"x":22.2,"y":3.97},{"x":23.6,"y":3.94},{"x":25.0,"y":3.96},{"x":26.4,"y":3.98},{"x":27.8,"y":3.95},{"x":29.2,"y":3.97},{"x":30.6,"y":3.94},{"x":32.0,"y":3.96},{"x":33.4,"y":3.98},{"x":34.8,"y":3.95},{"x":36.2,"y":3.97},{"x":37.6,"y":3.94},{"x":39.0,"y":3.96},{"x":40.4,"y":3.98},{"x":41.8,"y":3.95},{"x":56.0,"y":3.93},
{"x":10.6,"y":3.88},{"x":12.0,"y":3.90},{"x":13.4,"y":3.87},{"x":14.8,"y":3.89},{"x":16.2,"y":3.86},{"x":17.6,"y":3.88},{"x":19.0,"y":3.90},{"x":20.4,"y":3.87},{"x":21.8,"y":3.89},{"x":23.2,"y":3.86},{"x":24.6,"y":3.88},{"x":26.0,"y":3.90},{"x":27.4,"y":3.87},{"x":28.8,"y":3.89},{"x":30.2,"y":3.86},{"x":31.6,"y":3.88},{"x":33.0,"y":3.90},{"x":34.4,"y":3.87},{"x":35.8,"y":3.89},{"x":37.2,"y":3.86},{"x":38.6,"y":3.88},{"x":40.0,"y":3.90},{"x":41.4,"y":3.87},{"x":43.2,"y":3.86},{"x":54.4,"y":3.89},
{"x":11.4,"y":3.80},{"x":12.8,"y":3.82},{"x":14.2,"y":3.79},{"x":15.6,"y":3.81},{"x":17.0,"y":3.78},{"x":18.4,"y":3.80},{"x":19.8,"y":3.82},{"x":21.2,"y":3.79},{"x":22.6,"y":3.81},{"x":24.0,"y":3.78},{"x":25.4,"y":3.80},{"x":26.8,"y":3.82},{"x":28.2,"y":3.79},{"x":29.6,"y":3.81},{"x":31.0,"y":3.78},{"x":32.4,"y":3.80},{"x":33.8,"y":3.82},{"x":35.2,"y":3.79},{"x":36.6,"y":3.81},{"x":38.0,"y":3.78},{"x":39.4,"y":3.80},{"x":40.8,"y":3.82},{"x":42.2,"y":3.79},
{"x":12.0,"y":3.72},{"x":13.4,"y":3.74},{"x":14.8,"y":3.71},{"x":16.2,"y":3.73},{"x":18.6,"y":3.70},{"x":20.0,"y":3.72},{"x":21.4,"y":3.74},{"x":22.8,"y":3.71},{"x":24.2,"y":3.73},{"x":25.6,"y":3.70},{"x":27.0,"y":3.72},{"x":28.4,"y":3.74},{"x":29.8,"y":3.71},{"x":31.2,"y":3.73},{"x":32.6,"y":3.70},{"x":34.0,"y":3.72},{"x":35.4,"y":3.74},{"x":36.8,"y":3.71},{"x":38.2,"y":3.73},{"x":39.6,"y":3.70},{"x":41.0,"y":3.72},{"x":42.4,"y":3.74},{"x":44.0,"y":3.71},{"x":46.3,"y":3.75},
{"x":15.0,"y":3.64},{"x":20.6,"y":3.64},{"x":22.0,"y":3.66},{"x":23.4,"y":3.63},{"x":24.8,"y":3.65},{"x":26.2,"y":3.62},{"x":27.6,"y":3.64},{"x":29.0,"y":3.66},{"x":30.4,"y":3.63},{"x":31.8,"y":3.65},{"x":33.2,"y":3.62},{"x":34.6,"y":3.64},{"x":36.0,"y":3.66},{"x":37.4,"y":3.63},{"x":38.8,"y":3.65},{"x":40.2,"y":3.62},{"x":41.6,"y":3.64},{"x":43.2,"y":3.66},{"x":44.8,"y":3.63},{"x":46.3,"y":3.63},{"x":48.4,"y":3.61},{"x":54.6,"y":3.60},
{"x":21.2,"y":3.56},{"x":22.6,"y":3.58},{"x":24.0,"y":3.55},{"x":25.4,"y":3.57},{"x":26.8,"y":3.54},{"x":28.2,"y":3.56},{"x":29.6,"y":3.58},{"x":31.0,"y":3.55},{"x":32.4,"y":3.57},{"x":33.8,"y":3.54},{"x":35.2,"y":3.56},{"x":36.6,"y":3.58},{"x":38.0,"y":3.55},{"x":39.4,"y":3.57},{"x":41.0,"y":3.54},
{"x":16.1,"y":3.49},{"x":21.6,"y":3.48},{"x":24.6,"y":3.46},{"x":26.6,"y":3.49},{"x":28.0,"y":3.47},{"x":29.4,"y":3.50},{"x":30.8,"y":3.46},{"x":32.2,"y":3.48},{"x":33.6,"y":3.45},{"x":35.0,"y":3.49},{"x":36.4,"y":3.47},{"x":38.6,"y":3.50},{"x":47.5,"y":3.46},
{"x":23.8,"y":3.40},{"x":27.2,"y":3.42},{"x":28.8,"y":3.38},{"x":32.6,"y":3.41},{"x":34.2,"y":3.39},{"x":36.4,"y":3.42},{"x":41.4,"y":3.39},{"x":43.2,"y":3.43},
{"x":26.5,"y":3.29},{"x":28.4,"y":3.35},{"x":33.6,"y":3.32},{"x":38.2,"y":3.28},{"x":39.7,"y":3.35},{"x":41.9,"y":3.34},
{"x":33.3,"y":3.25},{"x":36.7,"y":3.25}],
"p6":[{"x":19.5,"y":4.45},{"x":31.8,"y":4.45},{"x":38.8,"y":4.44},{"x":43.6,"y":4.43},
{"x":17.9,"y":4.37},{"x":24.1,"y":4.39},{"x":29.9,"y":4.41},{"x":33.6,"y":4.38},{"x":35.0,"y":4.40},{"x":36.4,"y":4.37},{"x":40.4,"y":4.39},{"x":43.0,"y":4.37},{"x":47.5,"y":4.36},{"x":54.2,"y":4.36},
{"x":18.5,"y":4.33},{"x":26.8,"y":4.30},{"x":28.6,"y":4.32},{"x":30.0,"y":4.29},{"x":31.4,"y":4.31},{"x":32.8,"y":4.33},{"x":34.2,"y":4.30},{"x":35.6,"y":4.32},{"x":37.0,"y":4.29},{"x":38.4,"y":4.31},{"x":39.8,"y":4.33},{"x":41.2,"y":4.30},{"x":42.6,"y":4.32},{"x":44.0,"y":4.29},{"x":45.4,"y":4.31},{"x":49.0,"y":4.30},
{"x":10.4,"y":4.24},{"x":22.6,"y":4.26},{"x":27.4,"y":4.24},{"x":28.8,"y":4.22},{"x":30.2,"y":4.25},{"x":31.6,"y":4.23},{"x":33.0,"y":4.21},{"x":34.4,"y":4.24},{"x":35.8,"y":4.22},{"x":37.2,"y":4.25},{"x":38.6,"y":4.23},{"x":40.0,"y":4.21},{"x":41.4,"y":4.24},{"x":42.8,"y":4.22},{"x":44.2,"y":4.25},{"x":45.6,"y":4.23},{"x":47.0,"y":4.21},{"x":48.4,"y":4.24},{"x":50.6,"y":4.24},{"x":60.0,"y":4.28},
{"x":23.0,"y":4.19},{"x":28.0,"y":4.17},{"x":29.4,"y":4.15},{"x":30.8,"y":4.18},{"x":32.2,"y":4.16},{"x":33.6,"y":4.14},{"x":35.0,"y":4.17},{"x":36.4,"y":4.15},{"x":37.8,"y":4.18},{"x":39.2,"y":4.16},{"x":40.6,"y":4.14},{"x":42.0,"y":4.17},{"x":43.4,"y":4.15},{"x":44.8,"y":4.18},{"x":46.2,"y":4.16},{"x":47.6,"y":4.14},{"x":49.0,"y":4.17},{"x":50.4,"y":4.15},{"x":51.8,"y":4.18},{"x":57.9,"y":4.16},
{"x":1.2,"y":4.11},{"x":19.5,"y":4.11},{"x":21.5,"y":4.08},{"x":24.6,"y":4.10},{"x":26.2,"y":4.08},{"x":27.8,"y":4.11},{"x":29.2,"y":4.09},{"x":30.6,"y":4.07},{"x":32.0,"y":4.10},{"x":33.4,"y":4.08},{"x":34.8,"y":4.11},{"x":36.2,"y":4.09},{"x":37.6,"y":4.07},{"x":39.0,"y":4.10},{"x":40.4,"y":4.08},{"x":41.8,"y":4.11},{"x":43.2,"y":4.09},{"x":44.6,"y":4.07},{"x":46.0,"y":4.10},{"x":47.4,"y":4.08},{"x":48.8,"y":4.11},{"x":50.2,"y":4.09},{"x":51.6,"y":4.07},{"x":53.0,"y":4.10},{"x":62.5,"y":4.09},
{"x":17.4,"y":4.04},{"x":23.9,"y":4.01},{"x":27.0,"y":4.02},{"x":28.4,"y":4.00},{"x":29.8,"y":4.03},{"x":31.2,"y":4.01},{"x":32.6,"y":3.99},{"x":34.0,"y":4.02},{"x":35.4,"y":4.00},{"x":36.8,"y":4.03},{"x":38.2,"y":4.01},{"x":39.6,"y":3.99},{"x":41.0,"y":4.02},{"x":42.4,"y":4.00},{"x":43.8,"y":4.03},{"x":45.2,"y":4.01},{"x":46.6,"y":3.99},{"x":48.0,"y":4.02},{"x":49.4,"y":4.00},{"x":50.8,"y":4.03},{"x":52.2,"y":4.01},{"x":53.6,"y":3.99},{"x":56.4,"y":4.00},
{"x":8.1,"y":3.94},{"x":16.8,"y":3.95},{"x":20.5,"y":3.93},{"x":28.8,"y":3.94},{"x":30.2,"y":3.92},{"x":31.6,"y":3.95},{"x":33.0,"y":3.93},{"x":34.4,"y":3.91},{"x":35.8,"y":3.94},{"x":37.2,"y":3.92},{"x":38.6,"y":3.95},{"x":40.0,"y":3.93},{"x":41.4,"y":3.91},{"x":42.8,"y":3.94},{"x":44.2,"y":3.92},{"x":45.6,"y":3.95},{"x":47.0,"y":3.93},{"x":48.4,"y":3.91},{"x":49.8,"y":3.94},{"x":51.2,"y":3.92},{"x":52.6,"y":3.95},{"x":54.0,"y":3.93},{"x":56.8,"y":3.96},{"x":58.0,"y":3.92},
{"x":29.6,"y":3.87},{"x":31.0,"y":3.85},{"x":32.4,"y":3.88},{"x":33.8,"y":3.86},{"x":35.2,"y":3.84},{"x":36.6,"y":3.87},{"x":38.0,"y":3.85},{"x":39.4,"y":3.88},{"x":40.8,"y":3.86},{"x":42.2,"y":3.84},{"x":43.6,"y":3.87},{"x":45.0,"y":3.85},{"x":46.4,"y":3.88},{"x":47.8,"y":3.86},{"x":49.2,"y":3.84},{"x":50.6,"y":3.87},{"x":52.0,"y":3.85},{"x":53.4,"y":3.88},{"x":55.0,"y":3.86},{"x":57.4,"y":3.90},
{"x":16.1,"y":3.81},{"x":20.8,"y":3.77},{"x":25.1,"y":3.80},{"x":30.4,"y":3.80},{"x":33.0,"y":3.78},{"x":34.4,"y":3.81},{"x":35.8,"y":3.79},{"x":37.2,"y":3.77},{"x":38.6,"y":3.80},{"x":40.0,"y":3.78},{"x":41.4,"y":3.81},{"x":42.8,"y":3.79},{"x":44.2,"y":3.77},{"x":45.6,"y":3.80},{"x":47.0,"y":3.78},{"x":48.4,"y":3.81},{"x":49.8,"y":3.79},{"x":51.2,"y":3.77},{"x":52.6,"y":3.80},{"x":54.6,"y":3.78},{"x":60.4,"y":3.78},
{"x":28.0,"y":3.73},{"x":33.6,"y":3.72},{"x":35.0,"y":3.70},{"x":36.4,"y":3.73},{"x":37.8,"y":3.71},{"x":39.2,"y":3.69},{"x":40.6,"y":3.72},{"x":42.0,"y":3.70},{"x":43.4,"y":3.73},{"x":44.8,"y":3.71},{"x":46.2,"y":3.69},{"x":47.6,"y":3.72},{"x":49.0,"y":3.70},{"x":50.4,"y":3.73},{"x":51.8,"y":3.71},{"x":53.2,"y":3.69},
{"x":25.1,"y":3.66},{"x":29.0,"y":3.64},{"x":34.2,"y":3.64},{"x":35.6,"y":3.62},{"x":37.0,"y":3.65},{"x":38.4,"y":3.63},{"x":39.8,"y":3.61},{"x":41.2,"y":3.64},{"x":42.6,"y":3.62},{"x":44.0,"y":3.65},{"x":45.4,"y":3.63},{"x":46.8,"y":3.61},{"x":48.2,"y":3.64},{"x":49.6,"y":3.62},{"x":51.0,"y":3.65},{"x":52.4,"y":3.63},{"x":54.2,"y":3.61},
{"x":27.3,"y":3.58},{"x":32.6,"y":3.56},{"x":36.2,"y":3.56},{"x":37.6,"y":3.54},{"x":39.0,"y":3.57},{"x":40.4,"y":3.55},{"x":41.8,"y":3.53},{"x":43.2,"y":3.56},{"x":44.6,"y":3.54},{"x":46.0,"y":3.57},{"x":47.4,"y":3.55},{"x":48.8,"y":3.53},{"x":50.2,"y":3.56},{"x":51.6,"y":3.54},{"x":56.7,"y":3.52},
{"x":26.4,"y":3.49},{"x":38.0,"y":3.48},{"x":39.6,"y":3.46},{"x":41.0,"y":3.49},{"x":42.4,"y":3.47},{"x":43.8,"y":3.45},{"x":45.2,"y":3.48},{"x":46.6,"y":3.46},{"x":48.0,"y":3.49},{"x":49.4,"y":3.47},{"x":51.0,"y":3.45},{"x":53.8,"y":3.48},
{"x":20.1,"y":3.39},{"x":31.2,"y":3.40},{"x":39.2,"y":3.40},{"x":41.3,"y":3.34},{"x":43.0,"y":3.41},{"x":46.0,"y":3.39},{"x":48.4,"y":3.42},{"x":50.6,"y":3.40},{"x":52.6,"y":3.38},{"x":55.9,"y":3.39},
{"x":41.8,"y":3.33},{"x":47.6,"y":3.34},{"x":44.4,"y":3.27},{"x":51.0,"y":3.27}],
"l1":[{"x":7.6,"y":4.05},{"x":72.4,"y":3.31}],
"l2":[{"x":7.6,"y":4.15},{"x":72.4,"y":3.42}],
"l3":[{"x":50.8,"y":4.02},{"x":164.2,"y":3.48}],
"l4":[{"x":50.8,"y":4.17},{"x":164.2,"y":3.43}],
"l5":[{"x":-2.8,"y":4.08},{"x":72.8,"y":3.43}],
"l6":[{"x":-2.8,"y":4.27},{"x":72.8,"y":3.61}],
"t1":[{"x":50,"y":1.5,"label":"r = -0.31, p < 0.0001"}],
"t2":[{"x":50,"y":1.5,"label":"r = -0.37, p < 0.0001"}],
"t3":[{"x":120,"y":1.5,"label":"r = -0.32, p < 0.0001"}],
"t4":[{"x":120,"y":1.5,"label":"r = -0.43, p < 0.0001"}],
"t5":[{"x":45,"y":1.5,"label":"r = -0.33, p < 0.0001"}],
"t6":[{"x":45,"y":1.5,"label":"r = -0.31, p < 0.0001"}]
},
"concat":[
{"width":299,"height":237,"title":"Men",
 "encoding":{
  "x":{"field":"x","type":"quantitative","scale":{"domain":[7.6,72.4],"nice":false,"zero":false},"axis":{"title":"BMI","values":[10,20,30,40,50,60,70]}},
  "y":{"field":"y","type":"quantitative","scale":{"domain":[0.84,5.16],"nice":false,"zero":false},"axis":{"title":"log₁₀(Adiponectin)","values":[1,2,3,4,5]}}},
 "layer":[
  {"data":{"name":"p1"},"mark":{"type":"circle","size":40,"color":"#000","opacity":1}},
  {"data":{"name":"l1"},"mark":{"type":"line","color":"#ee1c25","strokeWidth":1.3,"clip":true}},
  {"data":{"name":"t1"},"mark":{"type":"text","color":"#ee1c25","fontSize":12,"font":"Liberation Sans","align":"center","baseline":"middle"},"encoding":{"text":{"field":"label"}}}
 ]},
{"width":299,"height":237,"title":"Women",
 "encoding":{
  "x":{"field":"x","type":"quantitative","scale":{"domain":[7.6,72.4],"nice":false,"zero":false},"axis":{"title":"BMI","values":[10,20,30,40,50,60,70]}},
  "y":{"field":"y","type":"quantitative","scale":{"domain":[0.84,5.16],"nice":false,"zero":false},"axis":{"title":"log₁₀(Adiponectin)","values":[1,2,3,4,5]}}},
 "layer":[
  {"data":{"name":"p2"},"mark":{"type":"circle","size":40,"color":"#000","opacity":1}},
  {"data":{"name":"l2"},"mark":{"type":"line","color":"#ee1c25","strokeWidth":1.3,"clip":true}},
  {"data":{"name":"t2"},"mark":{"type":"text","color":"#ee1c25","fontSize":12,"font":"Liberation Sans","align":"center","baseline":"middle"},"encoding":{"text":{"field":"label"}}}
 ]},
{"width":299,"height":237,
 "encoding":{
  "x":{"field":"x","type":"quantitative","scale":{"domain":[50.8,164.2],"nice":false,"zero":false},"axis":{"title":"Waist Circumference","values":[60,80,100,120,140,160]}},
  "y":{"field":"y","type":"quantitative","scale":{"domain":[0.84,5.16],"nice":false,"zero":false},"axis":{"title":"log₁₀(Adiponectin)","values":[1,2,3,4,5]}}},
 "layer":[
  {"data":{"name":"p3"},"mark":{"type":"circle","size":40,"color":"#000","opacity":1}},
  {"data":{"name":"l3"},"mark":{"type":"line","color":"#ee1c25","strokeWidth":1.3,"clip":true}},
  {"data":{"name":"t3"},"mark":{"type":"text","color":"#ee1c25","fontSize":12,"font":"Liberation Sans","align":"center","baseline":"middle"},"encoding":{"text":{"field":"label"}}}
 ]},
{"width":299,"height":237,
 "encoding":{
  "x":{"field":"x","type":"quantitative","scale":{"domain":[50.8,164.2],"nice":false,"zero":false},"axis":{"title":"Waist Circumference","values":[60,80,100,120,140,160]}},
  "y":{"field":"y","type":"quantitative","scale":{"domain":[0.84,5.16],"nice":false,"zero":false},"axis":{"title":"log₁₀(Adiponectin)","values":[1,2,3,4,5]}}},
 "layer":[
  {"data":{"name":"p4"},"mark":{"type":"circle","size":40,"color":"#000","opacity":1}},
  {"data":{"name":"l4"},"mark":{"type":"line","color":"#ee1c25","strokeWidth":1.3,"clip":true}},
  {"data":{"name":"t4"},"mark":{"type":"text","color":"#ee1c25","fontSize":12,"font":"Liberation Sans","align":"center","baseline":"middle"},"encoding":{"text":{"field":"label"}}}
 ]},
{"width":299,"height":237,
 "encoding":{
  "x":{"field":"x","type":"quantitative","scale":{"domain":[-2.8,72.8],"nice":false,"zero":false},"axis":{"title":"Percent Fat Mass","values":[0,10,20,30,40,50,60,70]}},
  "y":{"field":"y","type":"quantitative","scale":{"domain":[0.84,5.16],"nice":false,"zero":false},"axis":{"title":"log₁₀(Adiponectin)","values":[1,2,3,4,5]}}},
 "layer":[
  {"data":{"name":"p5"},"mark":{"type":"circle","size":40,"color":"#000","opacity":1}},
  {"data":{"name":"l5"},"mark":{"type":"line","color":"#ee1c25","strokeWidth":1.3,"clip":true}},
  {"data":{"name":"t5"},"mark":{"type":"text","color":"#ee1c25","fontSize":12,"font":"Liberation Sans","align":"center","baseline":"middle"},"encoding":{"text":{"field":"label"}}}
 ]},
{"width":299,"height":237,
 "encoding":{
  "x":{"field":"x","type":"quantitative","scale":{"domain":[-2.8,72.8],"nice":false,"zero":false},"axis":{"title":"Percent Fat Mass","values":[0,10,20,30,40,50,60,70]}},
  "y":{"field":"y","type":"quantitative","scale":{"domain":[0.84,5.16],"nice":false,"zero":false},"axis":{"title":"log₁₀(Adiponectin)","values":[1,2,3,4,5]}}},
 "layer":[
  {"data":{"name":"p6"},"mark":{"type":"circle","size":40,"color":"#000","opacity":1}},
  {"data":{"name":"l6"},"mark":{"type":"line","color":"#ee1c25","strokeWidth":1.3,"clip":true}},
  {"data":{"name":"t6"},"mark":{"type":"text","color":"#ee1c25","fontSize":12,"font":"Liberation Sans","align":"center","baseline":"middle"},"encoding":{"text":{"field":"label"}}}
 ]}
],
"config":{
 "font":"Liberation Sans",
 "view":{"stroke":"#000","strokeWidth":1},
 "axis":{"domain":false,"grid":false,"tickColor":"#000","tickSize":7,"labelFont":"Liberation Sans","labelFontSize":12,"labelColor":"#111","titleFont":"Liberation Sans","titleFontSize":12,"titleFontWeight":"normal","titleColor":"#111","labelFlush":false,"labelOverlap":false},
 "axisX":{"labelPadding":10,"titlePadding":15},
 "axisY":{"labelAngle":-90,"labelPadding":5,"titlePadding":16},
 "title":{"font":"Liberation Sans","fontSize":14,"fontWeight":"bold","offset":18,"color":"#111"}
}
}
